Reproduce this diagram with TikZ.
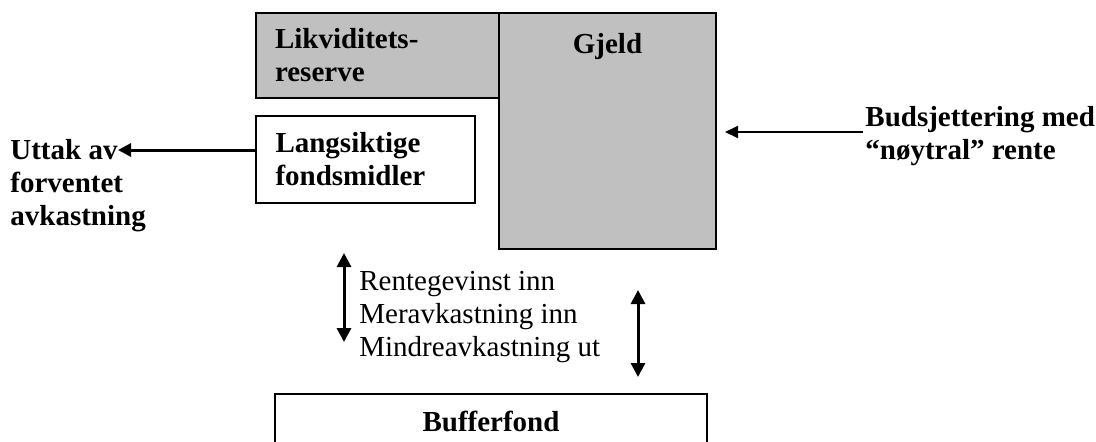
\documentclass[tikz,border=0pt]{standalone}
\usepackage{fontspec}
\setmainfont{Liberation Serif}
\usetikzlibrary{positioning,arrows.meta}
\definecolor{boxgray}{HTML}{C0C0C0}
\begin{document}
\begin{tikzpicture}[x=0.5pt,y=-0.5pt,
  every node/.style={font=\fontsize{14.5}{16.5}\selectfont},
  boxnode/.style={draw=black,line width=1pt,rectangle,inner sep=0pt,outer sep=0pt},
  boldtext/.style={font=\fontsize{14.5}{16.5}\selectfont\bfseries,align=left,inner sep=0pt},
  flow/.style={line width=1.5pt,-{Triangle[length=6.5pt,width=6.5pt]}},
  thinflow/.style={line width=1pt,-{Triangle[length=6.5pt,width=6pt]}},
  twoway/.style={line width=1.5pt,{Triangle[length=7pt,width=7pt]}-{Triangle[length=7pt,width=7pt]}}]
\useasboundingbox (0,0) rectangle (1096,441);
% balance boxes
\node[boxnode,fill=boxgray,anchor=north west,minimum width=121.5pt,minimum height=42.5pt,
  text width=102.5pt,inner xsep=9.5pt,align=left,font=\fontsize{14.5}{16.5}\selectfont\bfseries]
  (likv) at (256,13) {Likviditets-\\reserve};
\node[boxnode,fill=boxgray,anchor=north west,minimum width=108.5pt,minimum height=118pt]
  (gjeld) at (499,13) {};
\node[boldtext,below=10pt of gjeld.north] (gjeldtxt) {Gjeld};
\node[boxnode,fill=white,anchor=north west,minimum width=109.5pt,minimum height=43.5pt,
  text width=90pt,inner xsep=9.75pt,align=left,font=\fontsize{14.5}{16.5}\selectfont\bfseries]
  (langs) at (256,116) {Langsiktige\\fondsmidler};
\node[boxnode,anchor=north west,minimum width=216pt,minimum height=27pt,
  font=\fontsize{14.5}{16.5}\selectfont\bfseries] (buffer) at (275,394) {Bufferfond};
% side texts
\node[boldtext,anchor=north west] (uttak) at (10,139) {Uttak av\\forventet\\avkastning};
\node[boldtext,anchor=north west] (budsj) at (865,106) {Budsjettering med\\“nøytral” rente};
\node[anchor=north west,align=left,inner sep=0pt] (flows) at (359,271)
  {Rentegevinst inn\\Meravkastning inn\\Mindreavkastning ut};
% arrow ends
\coordinate (uttakend) at (118,150);
\coordinate (gjeldin) at (725,132);
\coordinate (lefttop) at (344,253);
\coordinate (leftbot) at (344,342);
\coordinate (righttop) at (638,290);
\coordinate (rightbot) at (638,377);
% arrows
\draw[flow] ([yshift=4.75pt]langs.west) -- (uttakend);
\draw[thinflow] ([xshift=-1pt]budsj.west |- gjeldin) -- (gjeldin);
\draw[twoway] (lefttop) -- (leftbot);
\draw[twoway] (righttop) -- (rightbot);
\end{tikzpicture}
\end{document}
